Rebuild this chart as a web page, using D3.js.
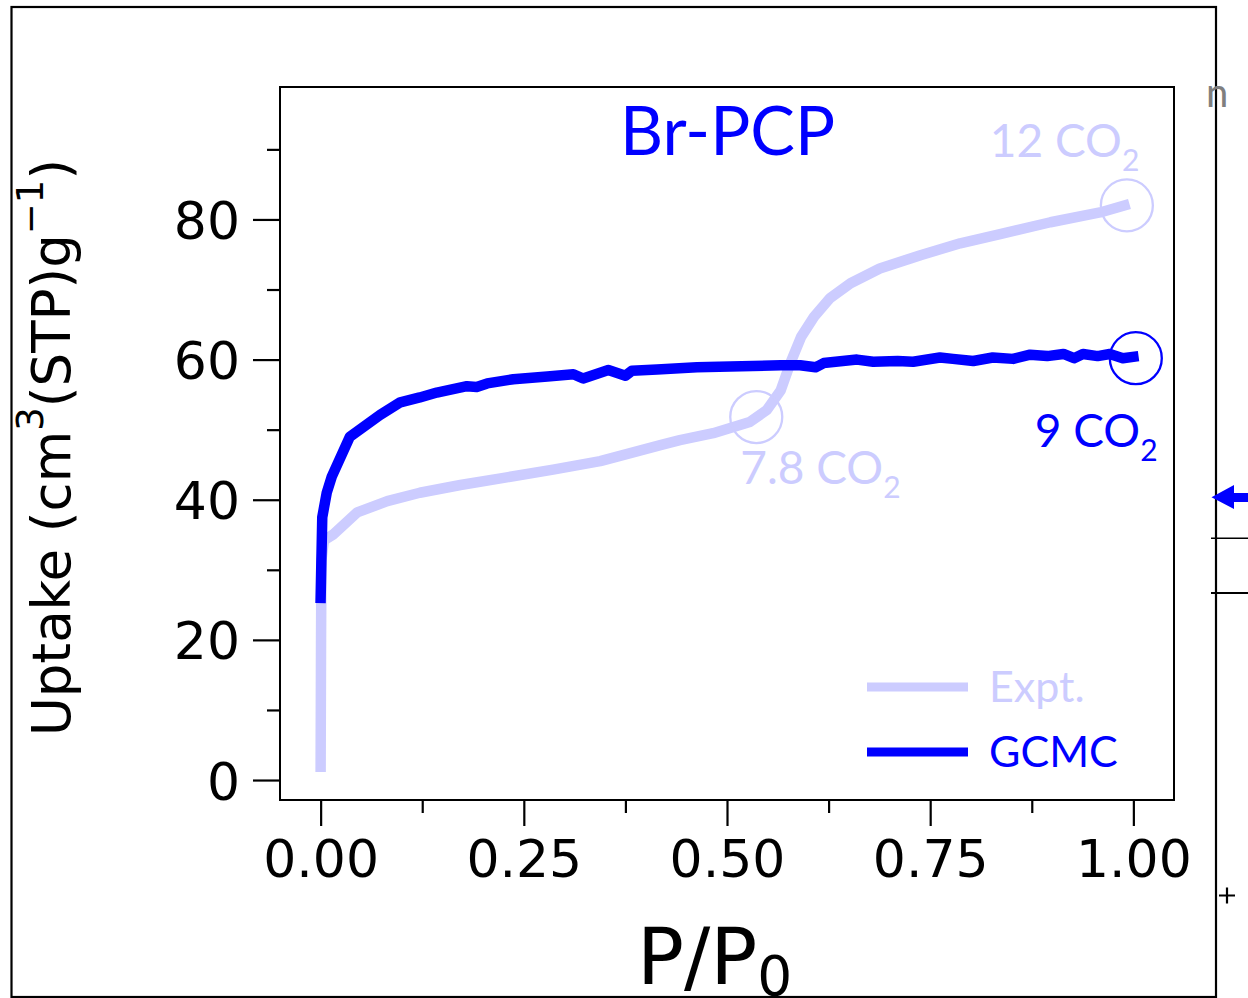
<!DOCTYPE html>
<html>
<head>
<meta charset="utf-8">
<script src="https://cdn.jsdelivr.net/npm/d3@7"></script>
<style>
  html, body { margin: 0; padding: 0; background: #fff; }
  svg { display: block; }
</style>
</head>
<body>
<svg id="chart" width="1248" height="998"></svg>
<script>
// CO2 uptake isotherm of Br-PCP: experiment vs. GCMC simulation
const exptP = [0, 0.0005, 0.001, 0.004, 0.015, 0.045, 0.082, 0.122, 0.172, 0.229, 0.286, 0.344, 0.418,
  0.442, 0.483, 0.528, 0.549, 0.566, 0.578, 0.591, 0.607, 0.627, 0.652, 0.688, 0.738, 0.787, 0.836, 0.898, 0.959, 0.989];
const exptUptake = [1.9, 20, 31.4, 34.2, 35.0, 38.2, 39.8, 41.0, 42.1, 43.2, 44.3, 45.5, 47.8,
  48.5, 49.5, 51.1, 52.8, 55.6, 59.5, 63.2, 66.1, 68.8, 70.9, 73.0, 74.9, 76.6, 77.9, 79.6, 81.0, 82.0];

const gcmcP = [0, 0.002, 0.0075, 0.0137, 0.036, 0.073, 0.098, 0.122, 0.143, 0.180, 0.192, 0.205, 0.237, 0.279,
  0.311, 0.323, 0.354, 0.375, 0.383, 0.414, 0.463, 0.504, 0.566, 0.590, 0.609, 0.619, 0.660, 0.680, 0.710,
  0.729, 0.762, 0.778, 0.803, 0.827, 0.852, 0.873, 0.894, 0.914, 0.927, 0.938, 0.956, 0.971, 0.987, 1.0];
const gcmcUptake = [26.0, 37.5, 41.0, 43.3, 49.0, 52.1, 53.9, 54.6, 55.3, 56.2, 56.1, 56.6, 57.2, 57.6,
  57.9, 57.3, 58.5, 57.7, 58.4, 58.6, 58.9, 59.0, 59.2, 59.2, 58.9, 59.5, 60.0, 59.7, 59.8,
  59.7, 60.3, 60.1, 59.8, 60.3, 60.1, 60.7, 60.5, 60.8, 60.2, 60.8, 60.5, 60.8, 60.2, 60.4];

const xTicks = [0, 0.25, 0.5, 0.75, 1.0];
const xMinorTicks = [0.125, 0.375, 0.625, 0.875];
const yTicks = [0, 20, 40, 60, 80];
const yMinorTicks = [10, 30, 50, 70, 90];

const seriesNames = ["Expt.", "GCMC"];
const seriesColors = ["#ccccff", "#0000ff"];

// highlighted points: [P/P0, uptake, label count]
const markedPoints = [
  { p: 0.536, u: 51.8, count: "7.8", series: 0 },
  { p: 0.992, u: 82.0, count: "12", series: 0 },
  { p: 1.003, u: 60.2, count: "9", series: 1 }
];

const svg = d3.select("#chart");
const plot = { left: 280, right: 1174, top: 87, bottom: 800 };

const x = d3.scaleLinear().domain([-0.05, 1.05]).range([plot.left, plot.right]);
const y = d3.scaleLinear().domain([-2.85, 98.9]).range([plot.bottom, plot.top]);

const tickFont = "'DejaVu Sans', sans-serif";
const noteFont = "Lato, 'Open Sans', sans-serif";

// outer panel frame
svg.append("rect")
  .attr("x", 11.5).attr("y", 7).attr("width", 1204.5).attr("height", 990)
  .attr("fill", "none").attr("stroke", "#000").attr("stroke-width", 2.2);

// bits of the neighbouring panel at the right edge
const side = svg.append("g");
side.append("path")
  .attr("d", "M1211.5,497.3 L1234,485 L1234,493 L1248,493 L1248,502 L1234,502 L1234,509 Z")
  .attr("fill", "#0000ff");
side.append("line").attr("x1", 1211).attr("x2", 1248).attr("y1", 538.3).attr("y2", 538.3)
  .attr("stroke", "#000").attr("stroke-width", 1.5);
side.append("line").attr("x1", 1211).attr("x2", 1248).attr("y1", 593).attr("y2", 593)
  .attr("stroke", "#000").attr("stroke-width", 2);
side.append("path").attr("d", "M1219,895.5 H1235 M1227,887.5 V903.5")
  .attr("stroke", "#000").attr("stroke-width", 2.2).attr("fill", "none");
side.append("text").attr("x", 1206).attr("y", 107).text("n")
  .attr("font-family", noteFont).attr("font-size", 40).attr("fill", "#7f7f7f");

// axes: major and minor ticks
const gx = svg.append("g").attr("transform", `translate(0,${plot.bottom})`)
  .call(d3.axisBottom(x).tickValues(xTicks).tickFormat(d3.format(".2f")).tickSize(26).tickPadding(14));
const gxm = svg.append("g").attr("transform", `translate(0,${plot.bottom})`)
  .call(d3.axisBottom(x).tickValues(xMinorTicks).tickFormat("").tickSize(13));
const gy = svg.append("g").attr("transform", `translate(${plot.left},0)`)
  .call(d3.axisLeft(y).tickValues(yTicks).tickFormat(d3.format("d")).tickSize(27).tickPadding(13));
const gym = svg.append("g").attr("transform", `translate(${plot.left},0)`)
  .call(d3.axisLeft(y).tickValues(yMinorTicks).tickFormat("").tickSize(13));

[gx, gxm, gy, gym].forEach(g => {
  g.select(".domain").remove();
  g.selectAll(".tick line").attr("stroke", "#000").attr("stroke-width", 2.2);
  g.selectAll(".tick text").attr("font-family", tickFont).attr("font-size", 52).attr("fill", "#000");
});
gy.selectAll(".tick text").attr("dy", "0.365em");

// axes box
svg.append("rect")
  .attr("x", plot.left).attr("y", plot.top)
  .attr("width", plot.right - plot.left).attr("height", plot.bottom - plot.top)
  .attr("fill", "none").attr("stroke", "#000").attr("stroke-width", 2);

// axis titles
const yTitle = svg.append("text")
  .attr("transform", `translate(70,${(plot.top + plot.bottom) / 2 + 4}) rotate(-90)`)
  .attr("text-anchor", "middle")
  .attr("font-family", tickFont).attr("font-size", 53).attr("fill", "#000");
yTitle.append("tspan").text("Uptake (cm");
yTitle.append("tspan").text("3").attr("font-size", 37).attr("dy", -27);
yTitle.append("tspan").text("(STP)g").attr("dy", 27);
yTitle.append("tspan").text("\u22121").attr("font-size", 37).attr("dy", -27);
yTitle.append("tspan").text(")").attr("dy", 27);

const xTitle = svg.append("text")
  .attr("x", 637).attr("y", 984)
  .attr("font-family", tickFont).attr("font-size", 78).attr("fill", "#000");
xTitle.append("tspan").text("P/P");
xTitle.append("tspan").text("0").attr("font-size", 55).attr("dy", 11);

// isotherm curves
const line = d3.line().x(d => x(d[0])).y(d => y(d[1]));
const series = [
  d3.zip(exptP, exptUptake),
  d3.zip(gcmcP, gcmcUptake)
];
series.forEach((pts, i) => {
  svg.append("path")
    .datum(pts)
    .attr("d", line)
    .attr("fill", "none")
    .attr("stroke", seriesColors[i])
    .attr("stroke-width", 10.5)
    .attr("stroke-linejoin", "round")
    .attr("stroke-linecap", "square");
});

// title
svg.append("text")
  .attr("x", 620).attr("y", 155)
  .attr("font-family", noteFont).attr("font-size", 67).attr("fill", "#0000ff")
  .attr("textLength", 215).attr("lengthAdjust", "spacingAndGlyphs")
  .text("Br-PCP");

// circled points with CO2 counts
const labelOffsets = [[-16, 67], [-137, -48.5], [-101, 89]];
markedPoints.forEach((m, i) => {
  const cx = x(m.p), cy = y(m.u);
  const col = seriesColors[m.series];
  svg.append("circle")
    .attr("cx", cx).attr("cy", cy).attr("r", 26)
    .attr("fill", "none").attr("stroke", col).attr("stroke-width", 2.3);
  const t = svg.append("text")
    .attr("x", cx + labelOffsets[i][0]).attr("y", cy + labelOffsets[i][1])
    .attr("font-family", noteFont).attr("font-size", 46).attr("fill", col);
  t.append("tspan").text(m.count + " CO");
  t.append("tspan").text("2").attr("font-size", 30).attr("dy", 14);
});

// legend
const legendRows = [687, 752];
seriesNames.forEach((name, i) => {
  svg.append("line")
    .attr("x1", 867).attr("x2", 968)
    .attr("y1", legendRows[i]).attr("y2", legendRows[i])
    .attr("stroke", seriesColors[i]).attr("stroke-width", 9);
  svg.append("text")
    .attr("x", 989).attr("y", legendRows[i] + 15)
    .attr("font-family", noteFont).attr("font-size", 43).attr("fill", seriesColors[i])
    .text(name);
});
</script>
</body>
</html>
